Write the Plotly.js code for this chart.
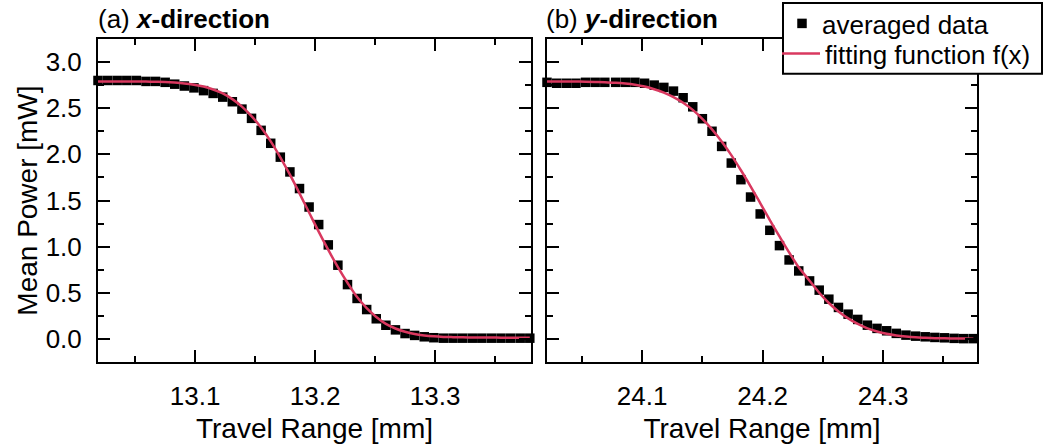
<!DOCTYPE html>
<html>
<head>
<meta charset="utf-8">
<script src="https://cdn.plot.ly/plotly-3.0.1.min.js"></script>
<style>
html,body{margin:0;padding:0;background:#fff;}
#chart{width:1044px;height:448px;}
</style>
</head>
<body>
<div id="chart"></div>
<script>
// ---- (a) x-direction ----
var xDirPos = [13.019,13.027,13.035,13.043,13.051,13.059,13.067,13.075,13.083,13.091,
  13.099,13.107,13.115,13.123,13.131,13.139,13.147,13.155,13.163,13.171,
  13.179,13.187,13.195,13.203,13.211,13.219,13.227,13.235,13.243,13.251,
  13.259,13.267,13.275,13.283,13.291,13.299,13.307,13.315,13.323,13.331,
  13.339,13.347,13.355,13.363,13.371,13.379];
var xDirData = [2.80,2.80,2.80,2.80,2.80,2.79,2.79,2.78,2.76,2.74,
  2.72,2.69,2.66,2.62,2.57,2.49,2.39,2.26,2.12,1.97,
  1.81,1.63,1.43,1.24,1.02,0.80,0.59,0.44,0.32,0.22,
  0.15,0.10,0.06,0.04,0.025,0.015,0.01,0.01,0.01,0.01,
  0.01,0.01,0.01,0.01,0.01,0.01];
var xDirFit = [2.79,2.79,2.79,2.789,2.789,2.788,2.786,2.783,2.777,2.768,
  2.754,2.734,2.702,2.66,2.598,2.517,2.414,2.29,2.14,1.968,
  1.78,1.578,1.37,1.163,0.965,0.78,0.61,0.455,0.335,0.24,
  0.165,0.115,0.08,0.055,0.04,0.03,0.024,0.021,0.019,0.018,
  0.017,0.017,0.016,0.016,0.016,0.016];

// ---- (b) y-direction ----
var yDirPos = [24.021,24.029,24.037,24.045,24.053,24.061,24.069,24.078,24.086,24.094,
  24.102,24.110,24.118,24.126,24.134,24.142,24.150,24.158,24.166,24.174,
  24.182,24.190,24.198,24.206,24.214,24.222,24.230,24.239,24.247,24.255,
  24.263,24.271,24.279,24.287,24.295,24.303,24.311,24.319,24.327,24.335,
  24.343,24.351,24.359,24.367,24.375];
var yDirData = [2.78,2.77,2.77,2.77,2.78,2.78,2.78,2.78,2.78,2.78,
  2.77,2.75,2.725,2.685,2.613,2.515,2.386,2.25,2.086,1.906,
  1.726,1.538,1.355,1.178,1.012,0.857,0.738,0.63,0.53,0.432,
  0.343,0.27,0.213,0.151,0.116,0.09,0.062,0.043,0.032,0.025,
  0.018,0.014,0.008,0.005,0.005];
var yDirFit = [2.79,2.789,2.789,2.788,2.787,2.784,2.78,2.775,2.766,2.753,
  2.734,2.705,2.669,2.62,2.559,2.482,2.385,2.271,2.139,1.992,
  1.828,1.654,1.473,1.289,1.112,0.939,0.777,0.632,0.502,0.391,
  0.299,0.224,0.164,0.117,0.083,0.058,0.04,0.028,0.019,0.014,
  0.01,0.008,0.007,0.006,0.005];

var seriesNames = ['averaged data', 'fitting function f(x)'];
var panelLabels = ['(a) <b><i>x</i>-direction</b>', '(b) <b><i>y</i>-direction</b>'];
var xTitle = 'Travel Range [mm]';
var yTitle = 'Mean Power [mW]';

var fitColor = '#d9385f';
var FONT = '"Liberation Sans", Arial, Helvetica, sans-serif';

var traces = [
  {x: xDirPos, y: xDirData, type: 'scatter', mode: 'markers', name: seriesNames[0],
   marker: {symbol: 'square', size: 9.5, color: '#000'}, cliponaxis: false,
   xaxis: 'x', yaxis: 'y', legend: 'legend'},
  {x: xDirPos, y: xDirFit, type: 'scatter', mode: 'lines', name: seriesNames[1],
   line: {color: fitColor, width: 2.5, shape: 'spline'}, cliponaxis: false,
   xaxis: 'x', yaxis: 'y', legend: 'legend2'},
  {x: yDirPos, y: yDirData, type: 'scatter', mode: 'markers', name: seriesNames[0],
   marker: {symbol: 'square', size: 9.5, color: '#000'}, cliponaxis: false,
   xaxis: 'x2', yaxis: 'y2', showlegend: false},
  {x: yDirPos, y: yDirFit, type: 'scatter', mode: 'lines', name: seriesNames[1],
   line: {color: fitColor, width: 2.5, shape: 'spline'}, cliponaxis: false,
   xaxis: 'x2', yaxis: 'y2', showlegend: false}
];

function xax(domain, range, anchor, t0) {
  return {
    domain: domain, range: range, anchor: anchor,
    showline: true, linecolor: '#000', linewidth: 2, mirror: 'allticks',
    ticks: 'inside', ticklen: 12, tickwidth: 2, tickcolor: '#000',
    dtick: 0.1, tick0: t0, tickformat: '.1f',
    minor: {ticks: 'inside', ticklen: 6, tickwidth: 2, tickcolor: '#000', dtick: 0.05, showgrid: false},
    showgrid: false, zeroline: false,
    tickfont: {family: FONT, size: 26, color: '#000'},
    ticklabelstandoff: 10,
    title: {text: xTitle, font: {family: FONT, size: 28, color: '#000'}, standoff: 8}
  };
}
function yax(domain, anchor, labels) {
  return {
    domain: domain, range: [-0.25, 3.25], anchor: anchor,
    showline: true, linecolor: '#000', linewidth: 2, mirror: 'allticks',
    ticks: 'inside', ticklen: 12, tickwidth: 2, tickcolor: '#000',
    dtick: 0.5, tick0: 0, tickformat: '.1f',
    minor: {ticks: 'inside', ticklen: 6, tickwidth: 2, tickcolor: '#000', dtick: 0.25, showgrid: false},
    showgrid: false, zeroline: false, showticklabels: labels,
    tickfont: {family: FONT, size: 26, color: '#000'},
    ticklabelstandoff: 9,
    title: labels ? {text: yTitle, font: {family: FONT, size: 28, color: '#000'}, standoff: 0} : {text: ''}
  };
}

var yDom = [1 - 362/448, 1 - 38/448];
var x1Dom = [98/1044, 531/1044];
var x2Dom = [547/1044, 977/1044];

var legendBase = {
  xanchor: 'left', yanchor: 'top',
  bgcolor: 'rgba(0,0,0,0)', borderwidth: 0,
  font: {family: FONT, size: 26, color: '#000'},
  tracegroupgap: 0
};
var leg1 = Object.assign({}, legendBase, {x: 782/1044, y: 1 + 1/448, itemwidth: 30});
var leg2 = Object.assign({}, legendBase, {x: 777/1044, y: 1 - 30/448, itemwidth: 38});

var layout = {
  width: 1044, height: 448,
  margin: {l: 0, r: 0, t: 0, b: 0},
  paper_bgcolor: '#fff', plot_bgcolor: '#fff',
  font: {family: FONT, color: '#000'},
  showlegend: true,
  legend: leg1,
  legend2: leg2,
  xaxis: xax(x1Dom, [13.019, 13.38], 'y', 13.0),
  yaxis: yax(yDom, 'x', true),
  xaxis2: xax(x2Dom, [24.021, 24.378], 'y2', 24.0),
  yaxis2: yax(yDom, 'x2', false),
  shapes: [
    {type: 'rect', xref: 'paper', yref: 'paper', layer: 'above',
     x0: 783/1044, x1: 1042/1044, y0: 1 - 73/448, y1: 1 - 2/448,
     line: {color: '#000', width: 2}, fillcolor: '#fff'}
  ],
  annotations: [
    {text: panelLabels[0], xref: 'paper', yref: 'paper', x: 96/1044, y: 1 - 18/448,
     xanchor: 'left', yanchor: 'middle', showarrow: false,
     font: {family: FONT, size: 26, color: '#000'}},
    {text: panelLabels[1], xref: 'paper', yref: 'paper', x: 544/1044, y: 1 - 18/448,
     xanchor: 'left', yanchor: 'middle', showarrow: false,
     font: {family: FONT, size: 26, color: '#000'}}
  ]
};

Plotly.newPlot('chart', traces, layout, {staticPlot: true, displayModeBar: false});
</script>
</body>
</html>
